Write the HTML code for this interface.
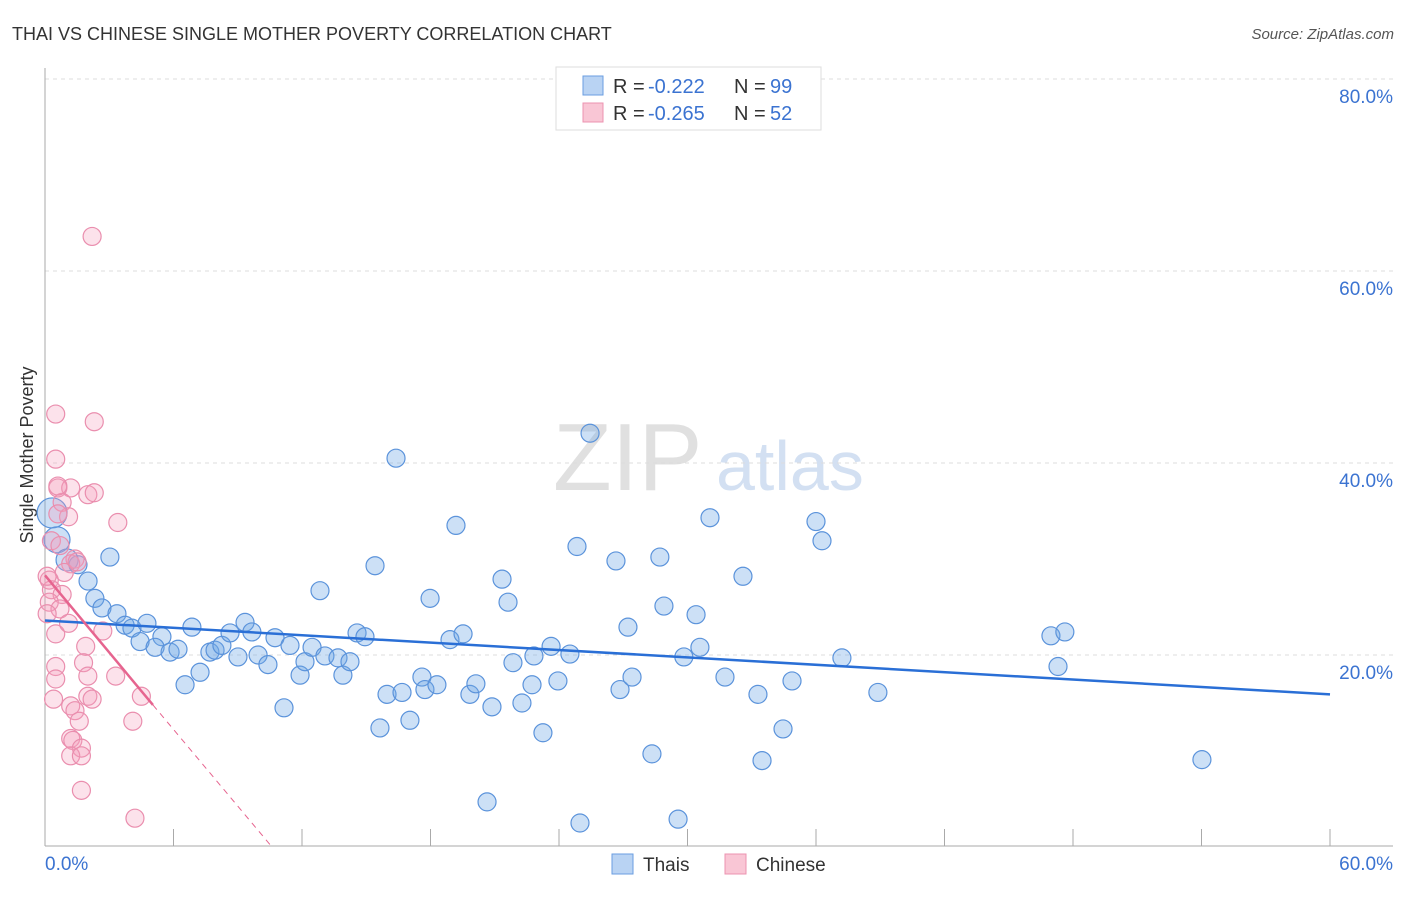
<!DOCTYPE html>
<html><head><meta charset="utf-8"><style>
body{margin:0;background:#fff;font-family:"Liberation Sans",sans-serif;}
svg text{font-family:"Liberation Sans",sans-serif;}
</style></head><body>
<svg id="chart" width="1406" height="892">
<text x="12" y="40" font-size="18" fill="#333">THAI VS CHINESE SINGLE MOTHER POVERTY CORRELATION CHART</text>
<text x="1394" y="39" font-size="15" fill="#555" font-style="italic" text-anchor="end">Source: ZipAtlas.com</text>
<text x="33" y="455" font-size="18" fill="#333" text-anchor="middle" transform="rotate(-90 33 455)">Single Mother Poverty</text>
<text x="553" y="490" font-size="96" fill="#e0e0e0" font-family="Liberation Serif">ZIP</text>
<text x="716" y="490" font-size="70" fill="#d3e0f2">atlas</text>
<g id="grid"></g><g id="pts"></g><g id="trend"></g>
<rect x="556" y="67" width="265" height="63" fill="#fff" stroke="#ddd"/>
<rect x="583" y="76" width="20" height="19" fill="#b9d3f3" stroke="#6a9ee0"/>
<rect x="583" y="103" width="20" height="19" fill="#f9c6d5" stroke="#ec93b0"/>
<g font-size="20">
<text x="613" y="93" fill="#333">R =</text><text x="648" y="93" fill="#3b73d1">-0.222</text>
<text x="734" y="93" fill="#333">N =</text><text x="770" y="93" fill="#3b73d1">99</text></g>
<g font-size="20">
<text x="613" y="120" fill="#333">R =</text><text x="648" y="120" fill="#3b73d1">-0.265</text>
<text x="734" y="120" fill="#333">N =</text><text x="770" y="120" fill="#3b73d1">52</text></g>
<rect x="612" y="854" width="21" height="20" fill="#b9d3f3" stroke="#6a9ee0"/>
<text x="643" y="871" font-size="19" fill="#333">Thais</text>
<rect x="725" y="854" width="21" height="20" fill="#f9c6d5" stroke="#ec93b0"/>
<text x="756" y="871" font-size="19" fill="#333">Chinese</text>
</svg>
<script>
const yTicks=[20,40,60,80];
const yTickLabels=["20.0%","40.0%","60.0%","80.0%"];
const xTickLabels=["0.0%","60.0%"];
const thaiX=[0.33,0.56,1.03,1.54,2.01,3.03,2.33,2.66,3.36,3.74,4.06,4.76,4.44,5.46,5.14,5.84,6.21,6.54,6.86,7.24,7.70,7.94,8.26,8.64,9.01,9.34,9.66,9.95,10.41,10.74,11.16,11.44,11.91,12.14,12.47,12.84,13.07,13.68,13.91,14.24,14.57,14.94,15.41,15.64,15.97,16.39,16.67,17.04,17.60,17.98,17.74,18.30,18.91,19.19,19.52,19.84,20.12,20.64,20.87,21.34,21.62,21.85,22.27,22.74,22.83,23.25,23.63,23.95,24.51,24.84,24.98,25.45,26.66,26.85,27.22,27.41,28.34,28.71,28.90,29.56,29.83,30.40,30.58,31.05,31.75,32.59,33.29,33.48,34.46,34.88,36.00,36.28,37.21,38.89,46.97,47.30,47.62,54.02];
const thaiY=[34.8,32.0,29.9,29.4,27.7,30.2,25.9,24.9,24.3,23.1,22.8,23.3,21.4,21.9,20.8,20.3,20.6,16.9,22.9,18.2,20.3,20.5,21.0,22.3,19.8,23.4,22.4,20.0,19.0,21.8,14.5,21.0,17.9,19.3,20.8,26.7,19.9,19.7,17.9,19.3,22.3,21.9,29.3,12.4,15.9,40.5,16.1,13.2,17.7,25.9,16.4,16.9,21.6,33.5,22.2,15.9,17.0,4.7,14.6,27.9,25.5,19.2,15.0,16.9,19.9,11.9,20.9,17.3,20.1,31.3,2.5,43.1,29.8,16.4,22.9,17.7,9.7,30.2,25.1,2.9,19.8,24.2,20.8,34.3,17.7,28.2,15.9,9.0,12.3,17.3,33.9,31.9,19.7,16.1,22.0,18.8,22.4,9.1];
const chinX=[2.2,0.5,2.3,0.5,0.6,1.2,2.0,2.3,0.8,1.1,3.4,0.6,0.3,0.7,1.4,1.2,0.9,1.5,0.2,0.3,0.8,0.2,0.7,0.1,0.5,1.1,2.7,1.9,0.5,1.8,2.0,3.3,0.4,2.0,2.2,1.2,1.4,1.6,4.5,4.1,1.2,1.3,1.7,1.2,1.7,1.7,4.2,0.5,0.1,0.6];
const chinY=[63.6,45.1,44.3,40.4,37.4,37.4,36.7,36.9,35.9,34.4,33.8,34.7,31.9,31.4,30.0,29.5,28.6,29.7,27.8,26.8,26.3,25.5,24.8,24.3,22.2,23.3,22.5,20.9,18.8,19.2,17.8,17.8,15.4,15.7,15.4,14.7,14.2,13.1,15.7,13.1,11.3,11.1,10.3,9.5,9.5,5.9,3.0,17.5,28.2,37.6];
const thaiTrend=[23.6,15.9];
const chinTrend=[28.3,14.8,0];
const chinTrendX=[0,5.04,10.6];
const X=v=>45+v*1285/60, Y=v=>847-v*192/20;
const NS="http://www.w3.org/2000/svg";
function mk(p,t,a){const e=document.createElementNS(NS,t);for(const k in a)e.setAttribute(k,a[k]);p.appendChild(e);return e;}
const grid=document.getElementById('grid');
yTicks.forEach((t,i)=>{
 const l=mk(grid,'line',{x1:45,x2:1393,y1:Y(t),y2:Y(t),stroke:'#ddd','stroke-dasharray':'4,4'});
 
 
 const tx=mk(grid,'text',{x:1393,y:Y(t)+24,'font-size':19,fill:'#3b73d1','text-anchor':'end'});tx.textContent=yTickLabels[i];
 
 
});
const ax=mk(grid,'line',{x1:45,x2:45,y1:68,y2:846,stroke:'#aaa'});


const bx=mk(grid,'line',{x1:45,x2:1393,y1:846,y2:846,stroke:'#aaa'});


for(let i=1;i<=10;i++){const t=mk(grid,'line',{x1:X(i*6),x2:X(i*6),y1:829,y2:846,stroke:'#aaa'});
 
 }
[[0,'start',45],[60,'end',1393]].forEach((d,i)=>{const t=mk(grid,'text',{x:d[2],y:870,'font-size':19,fill:'#3b73d1','text-anchor':d[1]});t.textContent=xTickLabels[i];
 
 });
const pts=document.getElementById('pts');
thaiX.forEach((x,i)=>{const r=i===0?15:(i===1?13:(i===2?11:9));const c=mk(pts,'circle',{cx:X(x),cy:Y(thaiY[i]),r:r,fill:'rgba(110,165,230,0.35)',stroke:'#5b93db','stroke-width':1.2});
 
 });
chinX.forEach((x,i)=>{const c=mk(pts,'circle',{cx:X(x),cy:Y(chinY[i]),r:9,fill:'rgba(245,160,190,0.3)',stroke:'#ea8eae','stroke-width':1.2});
 
 });
const tr=document.getElementById('trend');
const t1=mk(tr,'line',{x1:X(0),y1:Y(thaiTrend[0]),x2:X(60),y2:Y(thaiTrend[1]),stroke:'#2a6fd6','stroke-width':2.5});


const t2=mk(tr,'line',{x1:X(chinTrendX[0]),y1:Y(chinTrend[0]),x2:X(chinTrendX[1]),y2:Y(chinTrend[1]),stroke:'#e6648f','stroke-width':2.5});


const t3=mk(tr,'line',{x1:X(chinTrendX[1]),y1:Y(chinTrend[1]),x2:X(chinTrendX[2]),y2:Y(chinTrend[2]),stroke:'#e6648f','stroke-width':1,'stroke-dasharray':'6,5'});


</script>
</body></html>
